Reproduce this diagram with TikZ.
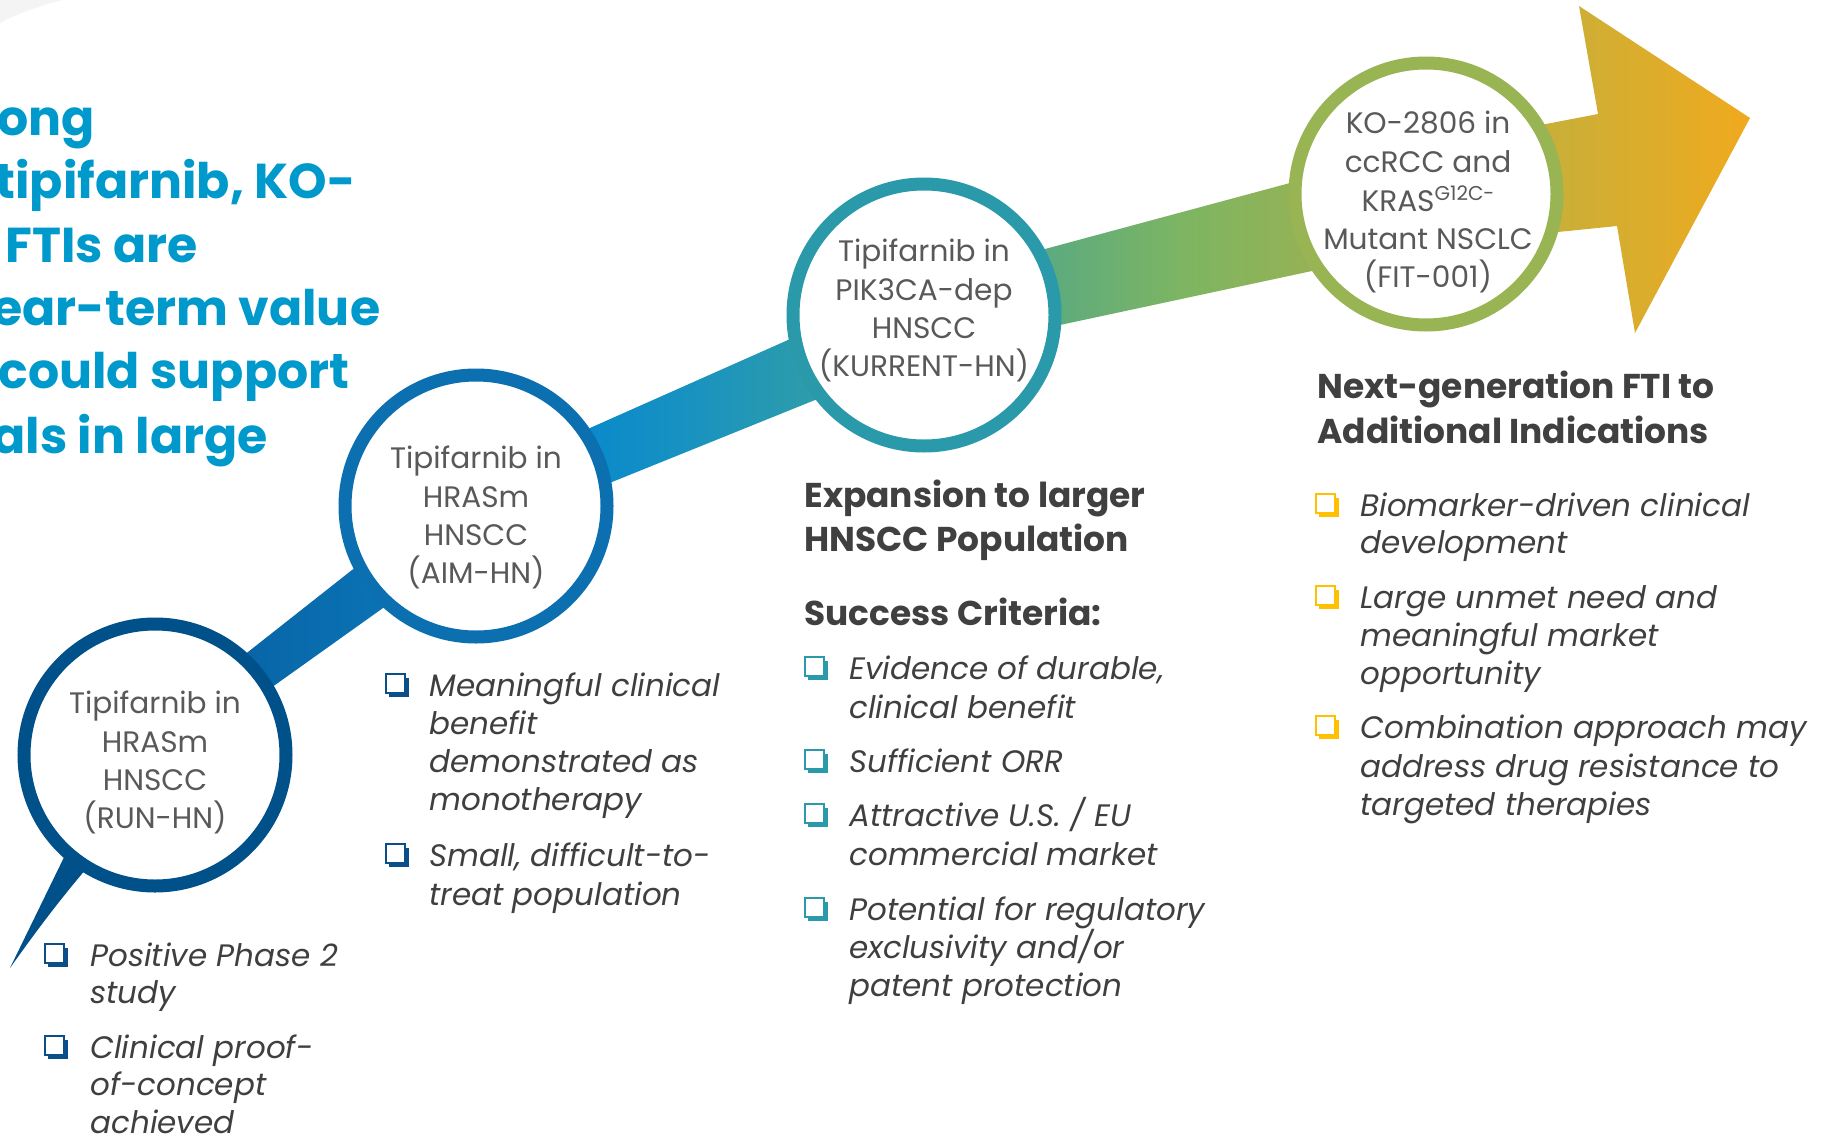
\documentclass[tikz,border=0pt]{standalone}
\usepackage{fontspec}
\setmainfont{Poppins}
\definecolor{ringA}{HTML}{00508A}
\definecolor{ringB}{HTML}{0B6FB0}
\definecolor{ringC}{HTML}{2A9AAA}
\definecolor{ringD}{HTML}{98B453}
\definecolor{titleblue}{HTML}{0099CC}
\definecolor{ctextcol}{HTML}{595959}
\definecolor{btextcol}{HTML}{3F3F3F}
\definecolor{headcol}{HTML}{404040}
\definecolor{boxnavy}{HTML}{0B4F8A}
\definecolor{boxteal}{HTML}{2A9AAA}
\definecolor{boxgold}{HTML}{FFC000}
\definecolor{cornergray}{HTML}{F4F4F4}
\definecolor{rA}{HTML}{0A5F9E}
\definecolor{rB}{HTML}{0866A8}
\definecolor{rC}{HTML}{0A72B3}
\definecolor{rD}{HTML}{0A8ACB}
\definecolor{rE}{HTML}{1A93BE}
\definecolor{rF}{HTML}{2E9DAA}
\definecolor{rG}{HTML}{5BAA80}
\definecolor{rH}{HTML}{7DB562}
\definecolor{rI}{HTML}{95B255}
\definecolor{rJ}{HTML}{C9AF38}
\definecolor{rK}{HTML}{F0AA1E}
\pgfdeclarehorizontalshading{ribbon}{100bp}{color(0bp)=(rA); color(25bp)=(rA); color(27bp)=(rB); color(31.1bp)=(rC); color(37.9bp)=(rD); color(41.4bp)=(rE); color(45.1bp)=(rF); color(52.4bp)=(rG); color(56.8bp)=(rH); color(60.9bp)=(rI); color(68.6bp)=(rJ); color(75bp)=(rK); color(100bp)=(rK)}
\newcommand\tline[5]{\node[#1] (#2) at (#3,#4) {#5};}
\newcommand\cbox[3]{\begin{scope}[shift={(#1,#2)}]
  \fill[#3] (3,-18) rectangle (23,1);
  \filldraw[fill=white, draw=#3, line width=1.2pt] (0,-22) rectangle (19,-3);
\end{scope}}
\tikzset{
  ringnode/.style={circle, draw=#1, line width=6.5pt, fill=white, minimum size=131pt, inner sep=0pt},
  ctext/.style={anchor=base, inner sep=0pt, font=\fontsize{14.8}{14.8}\selectfont, text=ctextcol},
  btext/.style={anchor=base west, inner sep=0pt, font=\fontsize{15.5}{15.5}\selectfont\itshape, text=btextcol},
  hd/.style={anchor=base west, inner sep=0pt, font=\fontsize{17.2}{17.2}\selectfont\bfseries, text=headcol},
  ttl/.style={anchor=base west, inner sep=0pt, font=\fontsize{24.5}{24.5}\selectfont\bfseries, text=titleblue}
}
\begin{document}
\begin{tikzpicture}[x=0.5pt,y=-0.5pt]
\clip (0,0) rectangle (1832,1140);
\fill[white] (0,0) rectangle (1832,1140);
\fill[cornergray] (0,0) -- (62,0) .. controls (40,6) and (18,13) .. (0,23) -- cycle;
% ribbon
\shade[shading=ribbon] (188,699) -- (248,652) -- (352,570) -- (590,428) -- (788,340) -- (1045,249) -- (1290,183) -- (1546,124) -- (1598,114) -- (1579,6) -- (1750,118) -- (1635,333) -- (1617,226) -- (1558,232) -- (1312,271) -- (1060,325) -- (815,400) -- (612,482) -- (383,608) -- (275,685) -- (225,721) -- cycle;
% spike of first circle
\fill[ringA] (70,845) -- (10,968) .. controls (30,940) and (55,905) .. (92,862) -- cycle;
% circles
\node[ringnode=ringA] (c1) at (155,755) {};
\node[ringnode=ringB] (c2) at (476,506) {};
\node[ringnode=ringC] (c3) at (924,315) {};
\node[ringnode=ringD] (c4) at (1426,194) {};
% circle texts
\tline{ctext}{c1a}{155}{713}{Tipifarnib in}
\tline{ctext}{c1b}{155}{752}{HRASm}
\tline{ctext}{c1c}{155}{790}{HNSCC}
\tline{ctext}{c1d}{155}{828}{(RUN-HN)}
\tline{ctext}{c2a}{476}{468}{Tipifarnib in}
\tline{ctext}{c2b}{476}{507}{HRASm}
\tline{ctext}{c2c}{476}{545}{HNSCC}
\tline{ctext}{c2d}{476}{583}{(AIM-HN)}
\tline{ctext}{c3a}{924}{261}{Tipifarnib in}
\tline{ctext}{c3b}{924}{300}{PIK3CA-dep}
\tline{ctext}{c3c}{924}{338}{HNSCC}
\tline{ctext}{c3d}{924}{376}{(KURRENT-HN)}
\tline{ctext}{c4a}{1428}{133}{KO-2806 in}
\tline{ctext}{c4b}{1428}{172}{ccRCC and}
\tline{ctext}{c4c}{1428}{211}{KRAS\raisebox{5.5pt}{\fontsize{10}{10}\selectfont G12C-}}
\tline{ctext}{c4d}{1428}{249}{Mutant NSCLC}
\tline{ctext}{c4e}{1428}{287}{(FIT-001)}
% title
\tline{ttl}{t1}{-3}{135}{ong}
\tline{ttl}{t2}{-5}{198}{tipifarnib, KO-}
\tline{ttl}{t3}{5}{262}{FTIs are}
\tline{ttl}{t4}{-8}{325}{ear-term value}
\tline{ttl}{t5}{-2}{388}{could support}
\tline{ttl}{t6}{-8}{453}{als in large}
% column 1
\cbox{45}{966}{boxnavy}
\tline{btext}{b1a}{90}{966}{Positive Phase 2}
\tline{btext}{b1b}{90}{1003}{study}
\cbox{45}{1058}{boxnavy}
\tline{btext}{b1c}{90}{1058}{Clinical proof-}
\tline{btext}{b1d}{90}{1095}{of-concept}
\tline{btext}{b1e}{90}{1133}{achieved}
% column 2
\cbox{386}{696}{boxnavy}
\tline{btext}{b2a}{429}{696}{Meaningful clinical}
\tline{btext}{b2b}{429}{734}{benefit}
\tline{btext}{b2c}{429}{772}{demonstrated as}
\tline{btext}{b2d}{429}{810}{monotherapy}
\cbox{386}{866}{boxnavy}
\tline{btext}{b2e}{429}{866}{Small, difficult-to-}
\tline{btext}{b2f}{429}{905}{treat population}
% column 3
\tline{hd}{h3a}{804}{507}{Expansion to larger}
\tline{hd}{h3b}{804}{551}{HNSCC Population}
\tline{hd}{h3c}{804}{625}{Success Criteria:}
\cbox{805}{679}{boxteal}
\tline{btext}{b3a}{849}{679}{Evidence of durable,}
\tline{btext}{b3b}{849}{718}{clinical benefit}
\cbox{805}{772}{boxteal}
\tline{btext}{b3c}{849}{772}{Sufficient ORR}
\cbox{805}{826}{boxteal}
\tline{btext}{b3d}{849}{826}{Attractive U.S. / EU}
\tline{btext}{b3e}{849}{865}{commercial market}
\cbox{805}{920}{boxteal}
\tline{btext}{b3f}{849}{920}{Potential for regulatory}
\tline{btext}{b3g}{849}{958}{exclusivity and/or}
\tline{btext}{b3h}{849}{996}{patent protection}
% column 4
\tline{hd}{h4a}{1317}{398}{Next-generation FTI to}
\tline{hd}{h4b}{1317}{443}{Additional Indications}
\cbox{1316}{516}{boxgold}
\tline{btext}{b4a}{1360}{516}{Biomarker-driven clinical}
\tline{btext}{b4b}{1360}{553}{development}
\cbox{1316}{608}{boxgold}
\tline{btext}{b4c}{1360}{608}{Large unmet need and}
\tline{btext}{b4d}{1360}{646}{meaningful market}
\tline{btext}{b4e}{1360}{684}{opportunity}
\cbox{1316}{738}{boxgold}
\tline{btext}{b4f}{1360}{738}{Combination approach may}
\tline{btext}{b4g}{1360}{777}{address drug resistance to}
\tline{btext}{b4h}{1360}{815}{targeted therapies}
\end{tikzpicture}
\end{document}
